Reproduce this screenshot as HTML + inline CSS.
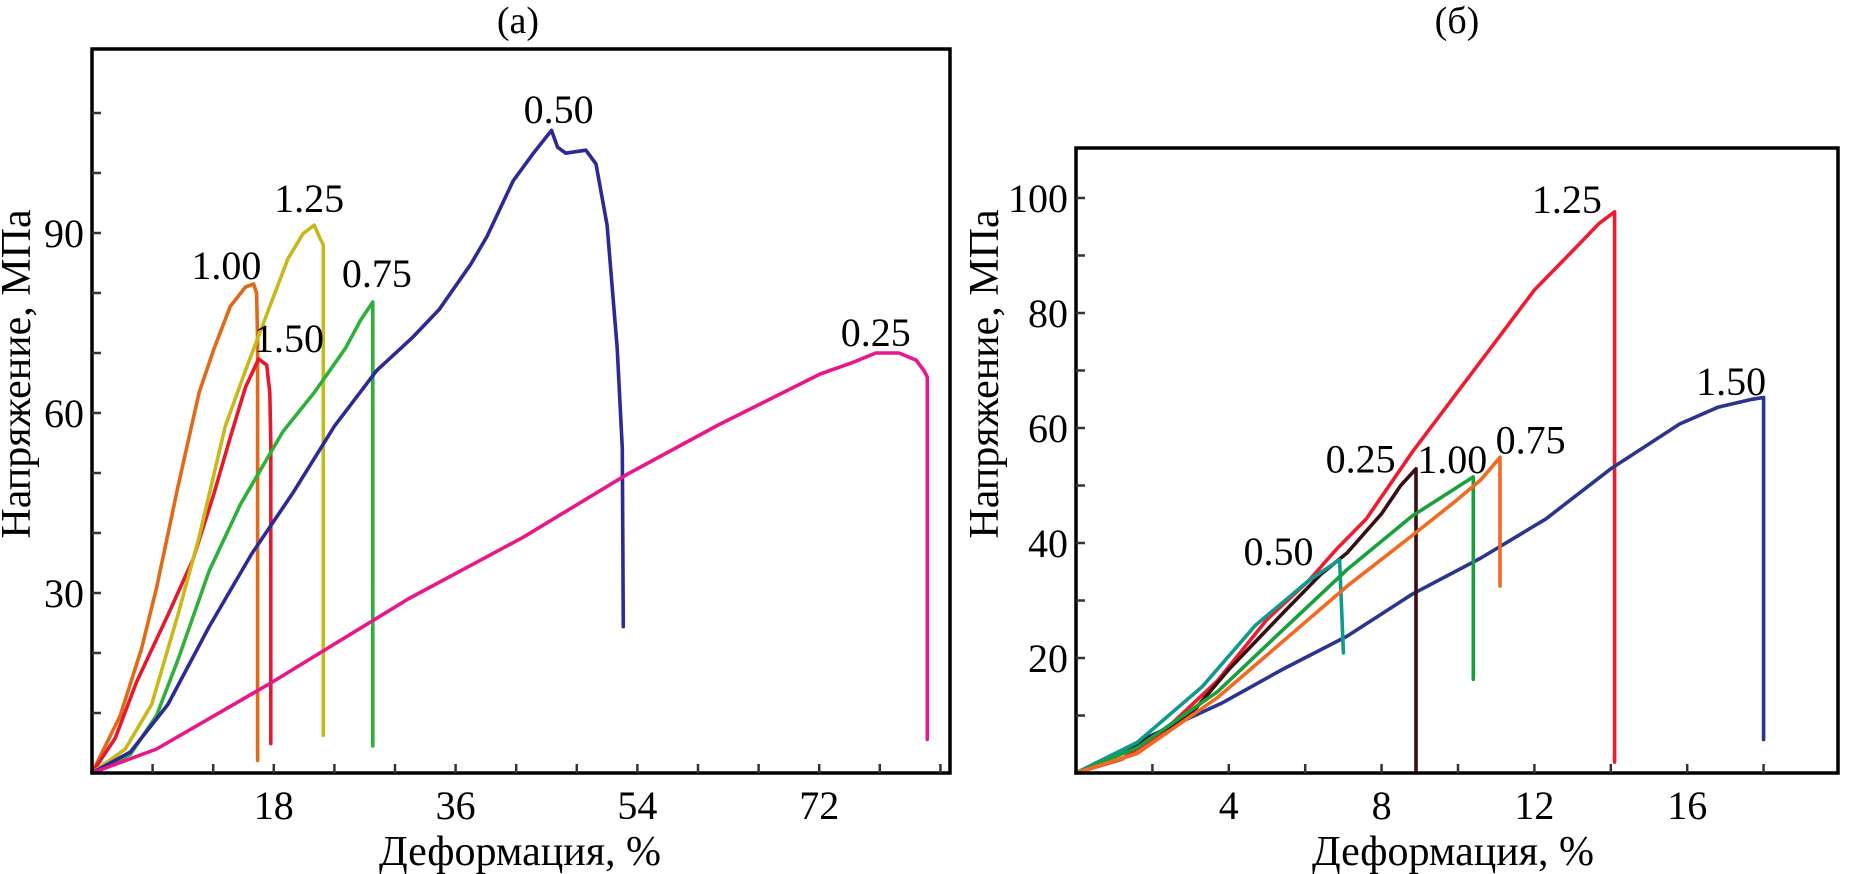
<!DOCTYPE html>
<html><head><meta charset="utf-8"><style>
html,body{margin:0;padding:0;background:#fff;}
svg{display:block;font-family:"Liberation Serif",serif;}
</style></head><body>
<svg id="chart" width="1854" height="874" viewBox="0 0 1854 874" xmlns="http://www.w3.org/2000/svg"></svg>
<script>
// ---------- Panel (a) data ----------
const aXTicks = [6,12,18,24,30,36,42,48,54,60,66,72,78,84];
const aXLabels = [18,36,54,72];
const aYTicks = [10,20,30,40,50,60,70,80,90,100,110];
const aYLabels = [30,60,90];
const aNames = ["1.00","1.50","1.25","0.75","0.50","0.25"];
const aColors = ["#e06a18","#e8182c","#c9b81a","#2fb03a","#2b2a96","#e8188a"];
const a100x = [0,2.8,4.9,6.4,8.5,10.6,12.1,13.7,15.2,16,16.3,16.4,16.4];
const a100y = [0,9.6,20.7,30.9,47.6,63.4,70.8,77.8,81,81.5,80,72,2.1];
const a150x = [0,2.3,4.4,7.5,10,12.1,13.7,15.2,16.5,17.3,17.6,17.7,17.7];
const a150y = [0,5.8,15.1,26.3,35.6,46.7,56,64.3,69,68,63.4,55,4.9];
const a125x = [0,3.3,5.9,8.5,10.6,13.2,15.2,17.3,19.4,20.9,22,22.6,22.9,22.9];
const a125y = [0,4,11.4,26.3,39.3,57.8,67.1,76.4,85.7,89.9,91.3,89,88,6.3];
const a075x = [0,3.8,6.4,8.5,11.6,14.7,18.9,22,25.1,26.6,27.8,27.8];
const a075y = [0,3.1,9.6,18.8,33.7,44.8,56.9,63.4,70.8,75.5,78.5,4.5];
const a050x = [0,3.8,7.5,11.6,15.8,19.9,24,28.2,31.8,34.4,37.5,39.1,41.7,43.7,45.5,46.1,46.9,48.9,49.9,51,52,52.5,52.6];
const a050y = [0,3.5,11.4,24.4,36.5,46.7,57.8,67.1,72.7,77.3,84.8,89.4,98.7,103.3,107.1,104.3,103.3,103.8,101.5,91.3,70.8,54.1,24.4];
const a025x = [0,6.4,17.8,31.3,42.7,53,62,72.1,75.3,77.6,79.9,81.6,82.4,82.7,82.7];
const a025y = [0,4,15.1,29,39.3,49.8,58,66.5,68.4,70,70,68.8,67,66,5.6];
const aLabelX = [13.3,19.5,21.5,28.2,46.2,77.6];
const aLabelY = [82.3,70.2,93.5,81,108.3,71.2];

// ---------- Panel (б) data ----------
const bXTicks = [2,4,6,8,10,12,14,16,18];
const bXLabels = [4,8,12,16];
const bYTicks = [10,20,30,40,50,60,70,80,90,100];
const bYLabels = [20,40,60,80,100];
const bNames = ["1.25","1.50","0.25","0.50","1.00","0.75"];
const bColors = ["#ee1c2e","#2b3590","#3a0e10","#0f9a8e","#17a03c","#f26a22"];
const b125x = [0,1.2,2.3,3.7,5,6.1,6.8,7.6,8.8,9.9,10.9,12,13,13.7,14.1,14.1];
const b125y = [0,2.4,7.3,16,26.7,33.5,38.8,44.2,55.8,65.5,74.3,84,90.8,95.6,97.6,1.9];
const b150x = [0,1.9,3.8,5.4,7.1,8.8,10.6,12.3,14,15.8,16.8,17.7,18,18];
const b150y = [0,6.3,12.1,18,23.8,31.1,37.4,44.2,52.9,60.7,63.6,65,65.3,5.8];
const b025x = [0,1.2,3,4,5.4,6.4,7.1,8,8.5,8.9,8.9];
const b025y = [0,3.4,10.2,18,27.7,34.5,38.3,45.1,50,52.9,0.5];
const b050x = [0,1.6,3.3,4.7,6.1,6.9,7.0];
const b050y = [0,5.3,15,25.7,33.5,37.1,20.9];
const b100x = [0,1.6,3.7,5.4,7.1,8.8,10.4,10.4];
const b100y = [0,4.4,14.1,24.8,35.4,44.7,51.5,16.3];
const b075x = [0,1.6,3.7,5.4,7.1,8.8,9.9,10.6,11.1,11.1];
const b075y = [0,3.4,13.1,22.8,32.5,41.3,47.1,51,54.9,32.5];
const bLabelX = [12.85,17.15,7.45,5.3,9.85,11.9];
const bLabelY = [97.4,65.7,52.3,36.2,52.2,55.6];

const svg = document.getElementById('chart');
const NS = 'http://www.w3.org/2000/svg';
function mk(tag, attrs, parent){
  const e = document.createElementNS(NS, tag);
  for (const k in attrs) e.setAttribute(k, attrs[k]);
  (parent||svg).appendChild(e);
  return e;
}

function panel(cfg){
  const g = mk('g', {});
  
  
  const X = v => cfg.x0 + v*cfg.sx;
  const Y = v => cfg.y0 - v*cfg.sy;
  cfg.series.forEach((s, i) => {
    const pts = s.x.map((xv, j) => X(xv).toFixed(1)+','+Y(s.y[j]).toFixed(1)).join(' ');
    const pl = mk('polyline', {points: pts, fill:'none', stroke: cfg.colors[i], 'stroke-width':3.6, 'stroke-linejoin':'round', 'stroke-linecap':'round'}, g);
    
    
  });
  const fr = mk('rect', {x: cfg.x0, y: cfg.top, width: cfg.right-cfg.x0, height: cfg.y0-cfg.top, fill:'none', stroke:'#000', 'stroke-width':3.5}, g);
  
  
  cfg.xTicks.forEach(t => {
    const l = mk('line', {x1:X(t), x2:X(t), y1:cfg.y0, y2:cfg.y0-9, stroke:'#333', 'stroke-width':2.5}, g);
    
    
  });
  cfg.xLabels.forEach(t => {
    const tx = mk('text', {x:X(t), y:cfg.y0+46, 'font-size':40, 'text-anchor':'middle', fill:'#000'}, g);
    tx.textContent = t;
    
    
  });
  cfg.yTicks.forEach(t => {
    const l = mk('line', {x1:cfg.x0, x2:cfg.x0+9, y1:Y(t), y2:Y(t), stroke:'#333', 'stroke-width':2.5}, g);
    
    
  });
  cfg.yLabels.forEach(t => {
    const tx = mk('text', {x:cfg.x0-8, y:Y(t)+14, 'font-size':40, 'text-anchor':'end', fill:'#000'}, g);
    tx.textContent = t;
    
    
  });
  cfg.names.forEach((n, i) => {
    const tx = mk('text', {x:X(cfg.lx[i]), y:Y(cfg.ly[i]), 'font-size':40, 'text-anchor':'middle', fill:'#000'}, g);
    tx.textContent = n;
    
    
  });
  const xt = mk('text', {x:cfg.xtX, y:865, 'font-size':42, 'text-anchor':'middle', fill:'#000'}, g);
  xt.textContent = 'Деформация, %';
  
  
  const yt = mk('text', {x:0, y:0, 'font-size':42, 'text-anchor':'middle', fill:'#000', transform:'translate('+cfg.ytX+',374) rotate(-90)'}, g);
  yt.textContent = 'Напряжение, МПа';
  
  
  const pt = mk('text', {x:cfg.ptX, y:33, 'font-size':38, 'text-anchor':'middle', fill:'#000'}, g);
  pt.textContent = cfg.title;
  
  
}

panel({id:'panel-a', x0:92, y0:773, sx:10.1, sy:6.0, top:49, right:950,
  series:[{x:a100x,y:a100y},{x:a150x,y:a150y},{x:a125x,y:a125y},{x:a075x,y:a075y},{x:a050x,y:a050y},{x:a025x,y:a025y}],
  names:aNames, colors:aColors, lx:aLabelX, ly:aLabelY,
  xTicks:aXTicks, xLabels:aXLabels, yTicks:aYTicks, yLabels:aYLabels,
  xtX:520, ytX:30, ptX:518, title:'(a)'});

panel({id:'panel-b', x0:1076, y0:773, sx:38.2, sy:5.75, top:148, right:1838,
  series:[{x:b125x,y:b125y},{x:b150x,y:b150y},{x:b025x,y:b025y},{x:b050x,y:b050y},{x:b100x,y:b100y},{x:b075x,y:b075y}],
  names:bNames, colors:bColors, lx:bLabelX, ly:bLabelY,
  xTicks:bXTicks, xLabels:bXLabels, yTicks:bYTicks, yLabels:bYLabels,
  xtX:1453, ytX:998, ptX:1457, title:'(б)'});
</script>
</body></html>
